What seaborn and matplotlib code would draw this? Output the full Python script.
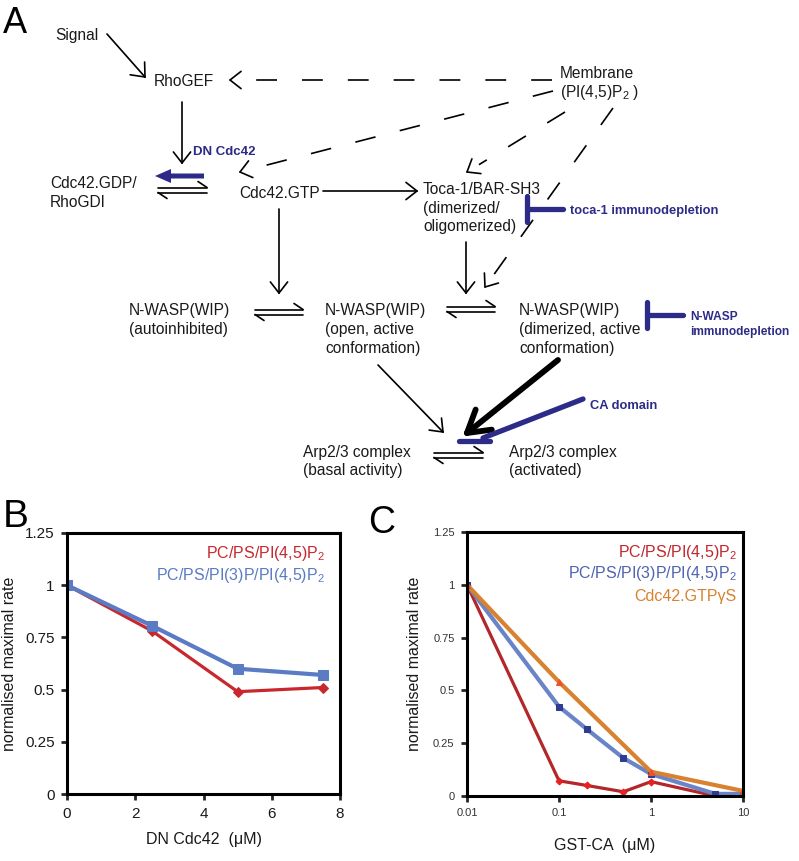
import numpy as np
import pandas as pd
import matplotlib.pyplot as plt
import seaborn as sns

# Panel B: DN Cdc42 titration
b_dn = [0, 2.5, 5, 7.5]
b_pip2 = [1.0, 0.78, 0.49, 0.51]
b_pi3p = [1.0, 0.805, 0.60, 0.57]

# Panel C: GST-CA titration
c_gst = [0.01, 0.1, 0.2, 0.5, 1, 5, 10]
c_pip2 = [1.0, 0.072, 0.05, 0.02, 0.068, 0.0, 0.0]
c_pi3p = [1.0, 0.423, 0.317, 0.18, 0.104, 0.01, 0.01]
c_gtp_x = [0.01, 0.1, 1, 10]
c_gtp = [1.0, 0.54, 0.115, 0.024]

y_ticks = [0, 0.25, 0.5, 0.75, 1, 1.25]
y_labels = ['0', '0.25', '0.5', '0.75', '1', '1.25']
b_xticks = [0, 2, 4, 6, 8]
c_xticks = [0.01, 0.1, 1, 10]
c_xlabels = ['0.01', '0.1', '1', '10']

lab_pip2 = r'PC/PS/PI(4,5)P$_2$'
lab_pi3p = r'PC/PS/PI(3)P/PI(4,5)P$_2$'
lab_gtp = 'Cdc42.GTPγS'

sns.set_style('ticks')
plt.rcParams['font.family'] = ['Liberation Sans', 'DejaVu Sans']
plt.rcParams['mathtext.fontset'] = 'custom'
plt.rcParams['mathtext.rm'] = 'Liberation Sans'
plt.rcParams['mathtext.it'] = 'Liberation Sans:italic'

NAVY = '#2c2b88'
TXT = '#1a1a1a'

fig = plt.figure(figsize=(7.99, 8.61), dpi=100)

# ---------- panel A: pathway diagram in pixel coordinates ----------
ax0 = fig.add_axes([0, 0, 1, 1])
ax0.set_xlim(0, 799)
ax0.set_ylim(861, 0)
ax0.axis('off')


def chevron(x0, y0, x1, y1, size=14, ang=38, lw=1.2, color='k'):
    d = np.arctan2(y1 - y0, x1 - x0)
    for s in (-1, 1):
        a = d + np.pi + s * np.radians(ang)
        ax0.plot([x1, x1 + size * np.cos(a)], [y1, y1 + size * np.sin(a)],
                 color=color, lw=lw, solid_capstyle='round')


def arrow(x0, y0, x1, y1, dashed=False, lw=1.2, size=14, ang=38):
    if dashed:
        d = np.hypot(x1 - x0, y1 - y0)
        ex = x1 - (x1 - x0) * 14 / d
        ey = y1 - (y1 - y0) * 14 / d
        ax0.plot([x0, ex], [y0, ey], color='k', lw=lw, ls=(0, (12.5, 15)))
    else:
        ax0.plot([x0, x1], [y0, y1], color='k', lw=lw)
    chevron(x0, y0, x1, y1, size=size, ang=ang, lw=lw)


def equil(x0, x1, y, gap=5, lw=1.2):
    ax0.plot([x0, x1], [y - gap / 2] * 2, 'k', lw=lw)
    ax0.plot([x0, x1], [y + gap / 2] * 2, 'k', lw=lw)
    ax0.plot([x1, x1 - 9], [y - gap / 2, y - gap / 2 - 6], 'k', lw=lw)
    ax0.plot([x0, x0 + 9], [y + gap / 2, y + gap / 2 + 6], 'k', lw=lw)


def label(x, y, s, **kw):
    kw.setdefault('color', TXT)
    kw.setdefault('fontsize', 11.2)
    ax0.text(x, y, s, ha='left', va='baseline', **kw)


def blue(x, y, s, size=9.3):
    ax0.text(x, y, s, ha='left', va='baseline', color=NAVY,
             fontsize=size, fontweight='bold')


ax0.text(3, 33, 'A', fontsize=26, va='baseline', color='k')
ax0.text(3, 527, 'B', fontsize=28, va='baseline', color='k')
ax0.text(368, 533, 'C', fontsize=27, va='baseline', color='k')

label(55, 40, 'Signal')
label(154, 86, 'RhoGEF')
label(50, 188, 'Cdc42.GDP/')
label(50, 207, 'RhoGDI')
label(239, 198, 'Cdc42.GTP')
label(560, 78, 'Membrane')
label(560, 97, r'(PI(4,5)P$_2$ )')
label(423, 194, 'Toca-1/BAR-SH3')
label(423, 213, '(dimerized/')
label(423, 231, 'oligomerized)')
label(129, 315, 'N-WASP(WIP)')
label(129, 334, '(autoinhibited)')
label(325, 315, 'N-WASP(WIP)')
label(325, 334, '(open, active')
label(325, 353, 'conformation)')
label(519, 315, 'N-WASP(WIP)')
label(519, 334, '(dimerized, active')
label(519, 353, 'conformation)')
label(303, 457, 'Arp2/3 complex')
label(303, 475, '(basal activity)')
label(509, 457, 'Arp2/3 complex')
label(509, 475, '(activated)')

blue(193, 155, 'DN Cdc42', 9.5)
blue(570, 214, 'toca-1 immunodepletion', 9.3)
blue(690, 320, 'N-WASP', 8.6)
blue(690, 335, 'immunodepletion', 8.6)
blue(590, 409, 'CA domain', 9.3)

# solid arrows
arrow(107, 34, 145, 77, size=15, ang=40)
arrow(182, 102, 182, 163)
arrow(323, 191, 417, 191)
arrow(279, 209, 279, 293)
arrow(466, 242, 466, 293)
arrow(378, 365, 443, 432)
arrow(558, 360, 467, 433, lw=4.2, size=25, ang=31)

# dashed arrows from the membrane
arrow(552, 80, 230, 80, dashed=True)
arrow(553, 91, 240, 172, dashed=True)
arrow(565, 112, 467, 172, dashed=True)
arrow(613, 108, 485, 287, dashed=True)

# equilibria
equil(158, 207, 190)
equil(255, 303, 312)
equil(447, 495, 309)
equil(434, 483, 455)

# inhibitors / perturbations
ax0.arrow(204, 176, -49, 0, width=5, head_width=14, head_length=16,
          length_includes_head=True, color=NAVY, lw=0)
ax0.plot([527, 527], [196, 222], color=NAVY, lw=3.8)
ax0.plot([527, 563], [209, 209], color=NAVY, lw=3.8)
ax0.plot([647, 647], [302, 328], color=NAVY, lw=3.8)
ax0.plot([647, 683], [315, 315], color=NAVY, lw=3.8)
ax0.plot([583, 483], [399, 438], color=NAVY, lw=3.8)
ax0.plot([459, 490], [441, 441], color=NAVY, lw=3.8)

# ---------- panel B ----------
W, H = 799, 861
axb = fig.add_axes([67 / W, 1 - 794 / H, 273 / W, 261 / H])
sns.lineplot(x=b_dn, y=b_pip2, ax=axb, color='#c8282d', lw=2.3,
             marker='D', markersize=5, markeredgecolor='#c8282d')
sns.lineplot(x=b_dn, y=b_pi3p, ax=axb, color='#5b7bc5', lw=3,
             marker='s', markersize=7, markeredgecolor='#5b7bc5')
axb.set_xlim(0, 8)
axb.set_ylim(0, 1.25)
axb.set_xticks(b_xticks)
axb.set_yticks(y_ticks)
axb.set_yticklabels(y_labels)
axb.set_xlabel('DN Cdc42  (μM)', fontsize=11.5, color=TXT, labelpad=8)
axb.set_ylabel('normalised maximal rate', fontsize=11.5, color=TXT, labelpad=6)
axb.tick_params(direction='out', length=4, width=2, labelsize=11,
                labelcolor=TXT, pad=5)
for s in axb.spines.values():
    s.set_linewidth(2.2)
    s.set_color('k')
axb.text(0.945, 0.923, lab_pip2, transform=axb.transAxes, ha='right',
         va='center', color='#c8282d', fontsize=11.5)
axb.text(0.945, 0.839, lab_pi3p, transform=axb.transAxes, ha='right',
         va='center', color='#5b7bc5', fontsize=11.5)

# ---------- panel C ----------
axc = fig.add_axes([467 / W, 1 - 796 / H, 276 / W, 264 / H])
sns.lineplot(x=c_gst, y=c_pip2, ax=axc, color='#b3262a', lw=2.3,
             marker='D', markersize=3.5, markerfacecolor='#e82020',
             markeredgecolor='#e82020')
sns.lineplot(x=c_gst, y=c_pi3p, ax=axc, color='#6a84c8', lw=3,
             marker='s', markersize=5, markerfacecolor='#2e3d92',
             markeredgecolor='#2e3d92')
sns.lineplot(x=c_gtp_x, y=c_gtp, ax=axc, color='#d8812f', lw=3,
             marker='^', markersize=4, markerfacecolor='#f0502a',
             markeredgecolor='#f0502a')
axc.set_xscale('log')
axc.set_xlim(0.01, 10)
axc.set_ylim(0, 1.25)
axc.set_xticks(c_xticks)
axc.set_xticklabels(c_xlabels)
axc.minorticks_off()
axc.set_yticks(y_ticks)
axc.set_yticklabels(y_labels)
axc.set_xlabel('GST-CA  (μM)', fontsize=11.5, color=TXT, labelpad=14)
axc.set_ylabel('normalised maximal rate', fontsize=11.5, color=TXT, labelpad=8)
axc.tick_params(direction='out', length=4, width=2, labelsize=8,
                labelcolor='#333333', pad=5)
for s in axc.spines.values():
    s.set_linewidth(2.2)
    s.set_color('k')
axc.text(0.978, 0.924, lab_pip2, transform=axc.transAxes, ha='right',
         va='center', color='#c0272d', fontsize=11.5)
axc.text(0.978, 0.841, lab_pi3p, transform=axc.transAxes, ha='right',
         va='center', color='#4f63b0', fontsize=11.5)
axc.text(0.978, 0.754, lab_gtp, transform=axc.transAxes, ha='right',
         va='center', color='#d8812f', fontsize=11.5)

fig.savefig('out.png', dpi=100)
